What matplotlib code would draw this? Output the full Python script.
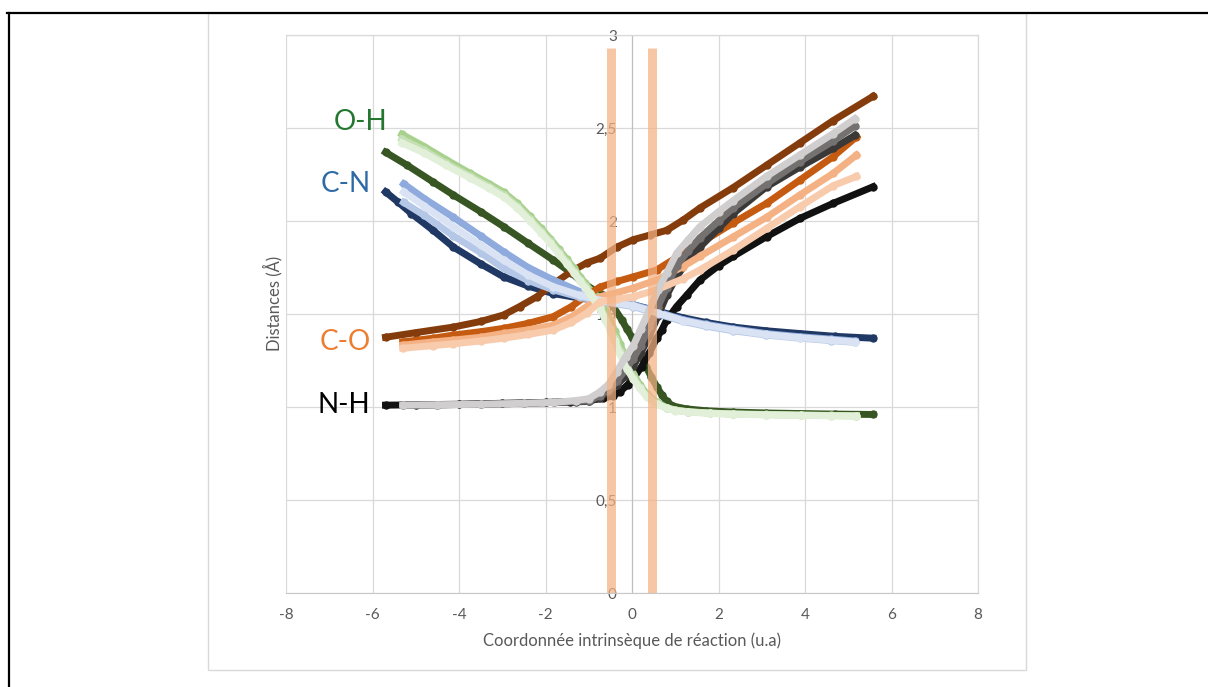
import matplotlib
matplotlib.use('Agg')
import matplotlib.pyplot as plt
from matplotlib.patches import Rectangle
from matplotlib.lines import Line2D

plt.rcParams['font.family'] = ['Lato', 'DejaVu Sans']

# ── data ──
# IRC 1 (dark series, longest path)
CN_DARK_X = [-5.70, -5.4, -5.1, -4.6, -4.13, -3.5, -2.97, -2.4, -1.82, -1.2, -0.66, 0.03, 0.6, 1.18, 1.7, 2.34, 3.1, 3.88, 4.7, 5.57]
CN_DARK_Y = [2.157, 2.10, 2.04, 1.95, 1.86, 1.77, 1.70, 1.65, 1.61, 1.585, 1.57, 1.55, 1.515, 1.48, 1.455, 1.43, 1.41, 1.395, 1.38, 1.37]

OH_DARK_X = [-5.70, -5.2, -4.6, -4.13, -3.5, -2.97, -2.4, -1.82, -1.4, -1.12, -0.85, -0.66, -0.45, -0.24, -0.12, 0.0, 0.11,
             0.22, 0.33, 0.45, 0.57, 0.69, 0.80, 0.95, 1.26, 1.7, 2.34, 3.1, 3.88, 4.7, 5.57]
OH_DARK_Y = [2.37, 2.30, 2.21, 2.14, 2.05, 1.97, 1.88, 1.79, 1.72, 1.665, 1.625, 1.60, 1.545, 1.47, 1.42, 1.375, 1.32,
             1.27, 1.215, 1.16, 1.11, 1.065, 1.03, 1.005, 0.99, 0.98, 0.973, 0.968, 0.965, 0.962, 0.96]

CO_DARK_X = [-5.70, -5.0, -4.13, -3.5, -2.97, -2.6, -2.2, -1.8, -1.43, -1.05, -0.74, -0.35, 0.03, 0.42, 0.8, 1.18, 1.57,
             2.34, 3.11, 3.88, 4.65, 5.57]
CO_DARK_Y = [1.375, 1.40, 1.43, 1.46, 1.495, 1.54, 1.593, 1.665, 1.725, 1.775, 1.80, 1.86, 1.90, 1.925, 1.95, 2.005, 2.07,
             2.18, 2.30, 2.42, 2.54, 2.67]

NH_DARK_X = [-5.70, -5.0, -4.0, -3.0, -2.0, -1.43, -1.0, -0.66, -0.45, -0.28, -0.1, 0.05, 0.22, 0.4, 0.57, 0.69, 0.80,
             1.03, 1.26, 1.57, 2.0, 2.34, 3.11, 3.88, 4.65, 5.57]
NH_DARK_Y = [1.01, 1.012, 1.015, 1.02, 1.025, 1.028, 1.035, 1.047, 1.06, 1.082, 1.12, 1.16, 1.217, 1.29, 1.37, 1.414, 1.468,
             1.54, 1.60, 1.683, 1.76, 1.81, 1.916, 2.014, 2.095, 2.184]

# IRCs 2-4 (lighter series)
CN_X = [-5.28, -4.8, -4.13, -3.5, -2.97, -2.4, -1.82, -1.2, -0.66, 0.03, 0.6, 1.18, 1.7, 2.34, 3.1, 3.88, 4.6, 5.15]
CN_A = [2.20, 2.12, 2.02, 1.92, 1.835, 1.75, 1.683, 1.62, 1.58, 1.55, 1.51, 1.47, 1.445, 1.42, 1.395, 1.378, 1.365, 1.355]
CN_B = [2.157, 2.08, 1.97, 1.87, 1.79, 1.71, 1.647, 1.60, 1.57, 1.545, 1.505, 1.465, 1.44, 1.415, 1.39, 1.373, 1.36, 1.35]
CN_C = [2.10, 2.03, 1.92, 1.83, 1.745, 1.68, 1.63, 1.59, 1.565, 1.54, 1.50, 1.46, 1.435, 1.41, 1.387, 1.37, 1.357, 1.348]

OH_X = [-5.32, -4.8, -4.3, -3.74, -3.3, -2.97, -2.65, -2.36, -2.1, -1.89, -1.7, -1.51, -1.35, -1.2, -1.08, -0.97, -0.85,
        -0.74, -0.62, -0.51, -0.4, -0.28, -0.12, 0.03, 0.18, 0.34, 0.57, 0.8, 1.0, 1.3, 1.8, 2.34, 3.1, 3.9, 4.6, 5.19]
OH_A = [2.466, 2.40, 2.33, 2.256, 2.20, 2.155, 2.095, 2.025, 1.96, 1.905, 1.85, 1.795, 1.748, 1.70, 1.665, 1.63, 1.60,
        1.566, 1.52, 1.47, 1.41, 1.34, 1.25, 1.18, 1.12, 1.07, 1.025, 0.997, 0.984, 0.975, 0.968, 0.963, 0.96, 0.957, 0.955, 0.953]
OH_B = [2.44, 2.38, 2.31, 2.24, 2.185, 2.14, 2.08, 2.01, 1.945, 1.89, 1.835, 1.78, 1.733, 1.685, 1.65, 1.615, 1.58,
        1.54, 1.48, 1.43, 1.37, 1.30, 1.22, 1.16, 1.105, 1.06, 1.02, 0.995, 0.982, 0.974, 0.967, 0.962, 0.959, 0.956, 0.954, 0.952]
OH_C = [2.42, 2.365, 2.30, 2.23, 2.175, 2.13, 2.07, 2.0, 1.935, 1.88, 1.825, 1.77, 1.723, 1.675, 1.64, 1.605, 1.57,
        1.53, 1.47, 1.415, 1.355, 1.285, 1.205, 1.15, 1.10, 1.055, 1.015, 0.993, 0.981, 0.973, 0.966, 0.961, 0.958, 0.955, 0.953, 0.951]

CO_X = [-5.3, -4.6, -4.13, -3.5, -2.97, -2.4, -1.82, -1.4, -1.05, -0.74, -0.35, 0.03, 0.57, 1.18, 1.57, 2.34, 3.11, 3.88, 4.65, 5.19]
CO_A = [1.35, 1.37, 1.387, 1.405, 1.423, 1.45, 1.486, 1.54, 1.60, 1.645, 1.675, 1.70, 1.737, 1.826, 1.88, 1.99, 2.095, 2.22, 2.346, 2.453]
CO_B = [1.333, 1.35, 1.36, 1.375, 1.396, 1.415, 1.44, 1.485, 1.54, 1.593, 1.615, 1.64, 1.683, 1.755, 1.81, 1.915, 2.02, 2.14, 2.256, 2.355]
CO_C = [1.316, 1.33, 1.34, 1.355, 1.37, 1.39, 1.414, 1.455, 1.504, 1.566, 1.58, 1.593, 1.63, 1.69, 1.737, 1.844, 1.96, 2.077, 2.19, 2.24]

NH_X = [-5.3, -4.5, -3.5, -2.5, -1.8, -1.3, -1.0, -0.75, -0.55, -0.35, -0.15, 0.03, 0.2, 0.4, 0.6, 0.8, 1.03, 1.3, 1.57,
        2.0, 2.34, 3.11, 3.88, 4.65, 5.15]
NH_A = [1.01, 1.012, 1.015, 1.02, 1.025, 1.035, 1.045, 1.08, 1.12, 1.19, 1.27, 1.33, 1.42, 1.52, 1.63, 1.72, 1.826, 1.90, 1.97,
        2.05, 2.11, 2.24, 2.355, 2.47, 2.55]
NH_B = [1.01, 1.012, 1.015, 1.02, 1.025, 1.03, 1.035, 1.06, 1.09, 1.14, 1.20, 1.26, 1.33, 1.43, 1.54, 1.64, 1.76, 1.84, 1.91,
        2.00, 2.07, 2.20, 2.32, 2.43, 2.51]
NH_C = [1.01, 1.012, 1.015, 1.02, 1.025, 1.028, 1.03, 1.05, 1.08, 1.12, 1.165, 1.22, 1.29, 1.38, 1.49, 1.60, 1.70, 1.79, 1.86,
        1.96, 2.04, 2.184, 2.29, 2.39, 2.46]

# transition-state markers
BAR_X = [-0.48, 0.47]
BAR_TOP = 2.93

X_TICKS = [-8, -6, -4, -2, 0, 2, 4, 6, 8]
X_LABELS = ['-8', '-6', '-4', '-2', '0', '2', '4', '6', '8']
Y_TICKS = [0, 0.5, 1, 1.5, 2, 2.5, 3]
Y_LABELS = ['0', '0,5', '1', '1,5', '2', '2,5', '3']

LABELS = ['O-H', 'C-N', 'C-O', 'N-H']
LABEL_POS = [(-5.66, 2.53), (-6.05, 2.20), (-6.05, 1.35), (-6.05, 1.01)]
LABEL_COLORS = ['#23772f', '#2e6aa6', '#ed7d31', '#000000']

series = [
    (CN_DARK_X, CN_DARK_Y, '#203864'),
    (OH_DARK_X, OH_DARK_Y, '#375623'),
    (CO_DARK_X, CO_DARK_Y, '#843c0c'),
    (NH_DARK_X, NH_DARK_Y, '#111111'),
    (CN_X, CN_A, '#8faadc'), (OH_X, OH_A, '#a9d18e'), (CO_X, CO_A, '#c55a11'), (NH_X, NH_C, '#3b3838'),
    (CN_X, CN_C, '#b4c7e7'), (OH_X, OH_B, '#c5e0b4'), (CO_X, CO_B, '#f4b183'), (NH_X, NH_B, '#767171'),
    (CN_X, CN_B, '#dae3f3'), (OH_X, OH_C, '#e2f0d9'), (CO_X, CO_C, '#f8cbad'), (NH_X, NH_A, '#d0cece'),
]

fig = plt.figure(figsize=(12.08, 6.87), dpi=100)
ax = fig.add_axes([0.2368, 0.1368, 0.5728, 0.8122])

for i, (xs, ys, c) in enumerate(series):
    ax.plot(xs, ys, '-o', color=c, lw=5, ms=6, mew=0, zorder=3 + i * 0.01)

for bx in BAR_X:
    ax.plot([bx, bx], [0, BAR_TOP], color='#f4b183', lw=6.5, alpha=0.72,
            solid_capstyle='butt', zorder=5)

for txt, (lx, ly), c in zip(LABELS, LABEL_POS, LABEL_COLORS):
    ax.text(lx, ly, txt, color=c, fontsize=20, ha='right', va='center', zorder=6)

ax.set_xlim(-8, 8)
ax.set_ylim(0, 3)
ax.set_xticks(X_TICKS)
ax.set_xticklabels(X_LABELS)
ax.set_yticks(Y_TICKS)
ax.set_yticklabels(Y_LABELS)
ax.grid(True, color='#d9d9d9', lw=0.9, zorder=0)
ax.set_axisbelow(True)

ax.spines['left'].set_position(('data', 0))
ax.spines['left'].set_color('#bfbfbf')
ax.spines['bottom'].set_color('#c8c8c8')
for s in ['top', 'right']:
    ax.spines[s].set_color('#d9d9d9')
    ax.spines[s].set_linewidth(0.9)
ax.tick_params(axis='both', length=0, colors='#595959', labelsize=11)
ax.tick_params(axis='y', pad=11)
ax.tick_params(axis='x', pad=11)

fig.text(0.523, 0.067, 'Coordonnée intrinsèque de réaction (u.a)', ha='center', va='center',
         fontsize=12, color='#595959')
fig.text(0.226, 0.559, 'Distances (Å)', ha='center', va='center', rotation=90,
         fontsize=12, color='#595959')

# chart area frame and outer page borders
fig.add_artist(Rectangle((0.1722, 0.0247), 0.6771, 0.9563, transform=fig.transFigure,
                         fill=False, edgecolor='#d9d9d9', lw=1.0))
fig.add_artist(Line2D([0.006, 1.0], [0.981, 0.981], transform=fig.transFigure, color='black', lw=1.6))
fig.add_artist(Line2D([0.0075, 0.0075], [0.0, 0.981], transform=fig.transFigure, color='black', lw=1.6))

fig.savefig('out.png', dpi=100)
